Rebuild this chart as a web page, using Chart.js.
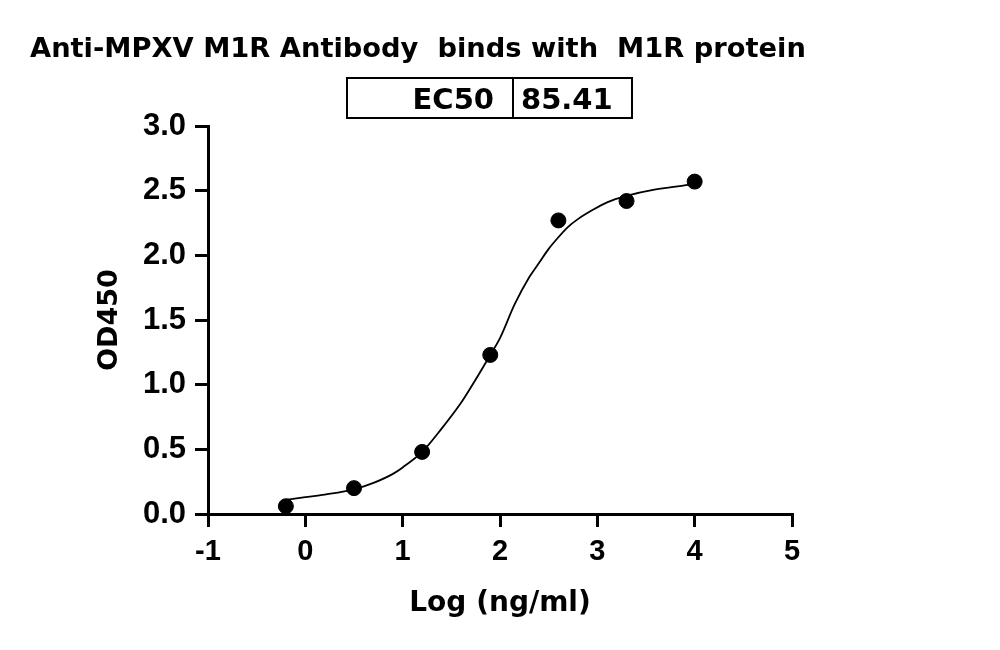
<!DOCTYPE html>
<html>
<head>
<meta charset="utf-8">
<title>Anti-MPXV M1R Antibody binds with M1R protein</title>
<script src="https://cdn.jsdelivr.net/npm/chart.js@4/dist/chart.umd.min.js"></script>
<style>
  html, body { margin: 0; padding: 0; background: #fff; }
  #wrap { width: 1000px; height: 650px; position: relative; }
</style>
</head>
<body>
<div id="wrap"><canvas id="ec50Chart"></canvas></div>
<script>
// Measured points: log concentration (ng/ml) vs OD450
const logConc = [-0.2, 0.5, 1.2, 1.9, 2.6, 3.3, 4.0];
const od450 = [0.06, 0.20, 0.48, 1.23, 2.27, 2.42, 2.57];

// Fitted curve
const fitX = [-0.2, 0.0, 0.2, 0.5, 0.7, 0.9, 1.0, 1.2, 1.4, 1.6, 1.75, 1.9, 2.0, 2.15, 2.3, 2.4, 2.5, 2.6, 2.7, 2.8, 2.95, 3.1, 3.3, 3.6, 4.0];
const fitY = [0.11, 0.13, 0.15, 0.19, 0.24, 0.31, 0.36, 0.48, 0.66, 0.86, 1.04, 1.23, 1.36, 1.62, 1.83, 1.94, 2.05, 2.14, 2.22, 2.28, 2.35, 2.41, 2.46, 2.51, 2.55];

// Axis ticks
const xTicks = [-1, 0, 1, 2, 3, 4, 5];
const yTicks = [0, 0.5, 1.0, 1.5, 2.0, 2.5, 3.0];

const chartTitle = 'Anti-MPXV M1R Antibody  binds with  M1R protein';
const ec50Label = 'EC50';
const ec50Value = '85.41';

const tickFamily = "'Liberation Sans', Arial, Helvetica, sans-serif";
const titleFont = { family: "'DejaVu Sans'", size: 28, weight: 'bold' };

// Title and the EC50 table above the plot
const headerPlugin = {
  id: 'header',
  afterDraw(chart) {
    const ctx = chart.ctx;
    ctx.save();
    ctx.fillStyle = '#000';
    ctx.font = 'bold 27.3px "DejaVu Sans"';
    ctx.textAlign = 'left';
    ctx.textBaseline = 'alphabetic';
    ctx.fillText(chartTitle, 30, 57);

    // EC50 box
    ctx.strokeStyle = '#000';
    ctx.lineWidth = 2;
    ctx.strokeRect(347, 78, 285, 40);
    ctx.beginPath();
    ctx.moveTo(513, 78);
    ctx.lineTo(513, 118);
    ctx.stroke();

    ctx.font = 'bold 29px "DejaVu Sans"';
    ctx.textAlign = 'right';
    ctx.fillText(ec50Label, 494, 109);
    ctx.textAlign = 'left';
    ctx.fillText(ec50Value, 521, 109);
    ctx.restore();
  }
};

const ctx = document.getElementById('ec50Chart').getContext('2d');
const ec50Chart = new Chart(ctx, {
  type: 'scatter',
  data: {
    datasets: [{
      label: 'OD450',
      data: logConc.map((x, i) => ({ x: x, y: od450[i] })),
      backgroundColor: '#000',
      borderColor: '#000',
      pointRadius: 7.5,
      pointHoverRadius: 7.5,
      order: 1
    }, {
      label: 'Fit',
      data: fitX.map((x, i) => ({ x: x, y: fitY[i] })),
      showLine: true,
      borderColor: '#000',
      borderWidth: 1.8,
      pointRadius: 0,
      cubicInterpolationMode: 'monotone',
      order: 2
    }]
  },
  options: {
    responsive: true,
    maintainAspectRatio: false,
    animation: false,
    layout: { padding: { left: 0, right: 208, top: 126, bottom: 0 } },
    plugins: {
      legend: { display: false },
      tooltip: { enabled: false }
    },
    scales: {
      x: {
        type: 'linear',
        min: -1,
        max: 5,
        afterBuildTicks: (scale) => { scale.ticks = xTicks.map(v => ({ value: v })); },
        afterFit: (scale) => { scale.height = 136; },
        border: { color: '#000', width: 3 },
        grid: { drawOnChartArea: false, color: '#000', lineWidth: 3, tickLength: 13 },
        ticks: { color: '#000', font: { family: tickFamily, size: 29, weight: 'bold' }, padding: 8, maxRotation: 0 },
        title: { display: true, text: 'Log (ng/ml)', color: '#000', font: titleFont, padding: { top: 0, bottom: 29 } }
      },
      y: {
        type: 'linear',
        min: 0,
        max: 3,
        afterBuildTicks: (scale) => { scale.ticks = yTicks.map(v => ({ value: v })); },
        afterFit: (scale) => { scale.width = 208; },
        border: { color: '#000', width: 3 },
        grid: { drawOnChartArea: false, color: '#000', lineWidth: 3, tickLength: 13 },
        ticks: { color: '#000', font: { family: tickFamily, size: 31, weight: 'bold' }, padding: 9, callback: (v) => v.toFixed(1) },
        title: { display: true, text: 'OD450', color: '#000', font: { family: "'DejaVu Sans'", size: 27, weight: 'bold' }, padding: { top: 94, bottom: 0 } }
      }
    }
  },
  plugins: [headerPlugin]
});
</script>
</body>
</html>
